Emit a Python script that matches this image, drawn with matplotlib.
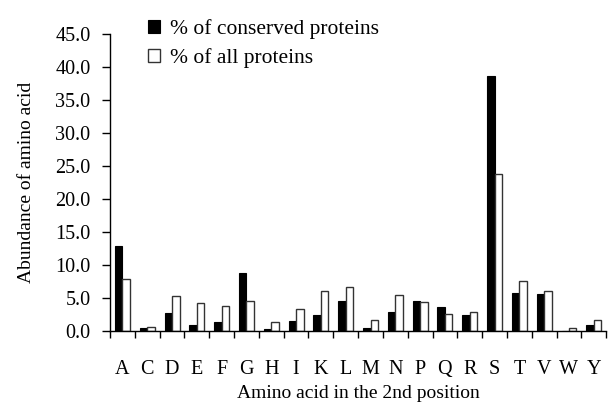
import numpy as np
import matplotlib.pyplot as plt

plt.rcParams['font.family'] = ['Liberation Serif', 'DejaVu Serif']

# amino acid in the 2nd position
amino = ['A', 'C', 'D', 'E', 'F', 'G', 'H', 'I', 'K', 'L',
         'M', 'N', 'P', 'Q', 'R', 'S', 'T', 'V', 'W', 'Y']
conserved = [12.9, 0.4, 2.7, 0.9, 1.4, 8.8, 0.3, 1.5, 2.4, 4.6,
             0.4, 2.8, 4.6, 3.6, 2.4, 38.6, 5.7, 5.6, 0.0, 0.9]
all_prot = [7.9, 0.6, 5.3, 4.3, 3.8, 4.6, 1.4, 3.3, 6.1, 6.7,
            1.6, 5.5, 4.4, 2.5, 2.9, 23.8, 7.6, 6.0, 0.5, 1.6]
yticks = np.arange(0, 45.1, 5)

x = np.arange(len(amino))
w = 0.3

fig = plt.figure(figsize=(6.08, 4.09), dpi=100)
ax = fig.add_axes([0.181, 0.191, 0.816, 0.726])

ax.bar(x - w/2, conserved, w, color='black', edgecolor='black', linewidth=0.8,
       label='% of conserved proteins')
ax.bar(x + w/2, all_prot, w, color='white', edgecolor='#333333', linewidth=1.0,
       label='% of all proteins')

ax.set_xlim(-0.5, len(amino) - 0.5)
ax.set_ylim(0, 45)
ax.set_yticks(yticks)
ax.set_yticklabels([f'{v:.1f}' for v in yticks])
ax.set_xticks(np.arange(-0.5, len(amino), 1.0))
ax.set_xticklabels([])
ax.set_xticks(x, minor=True)
ax.set_xticklabels(amino, minor=True)
ax.tick_params(axis='x', which='major', direction='out', length=5, width=1)
ax.tick_params(axis='x', which='minor', length=0, pad=21, labelsize=14.5)
ax.tick_params(axis='y', direction='out', length=6, width=1, labelsize=14.5, pad=8)

for s in ['top', 'right']:
    ax.spines[s].set_visible(False)
ax.spines['left'].set_linewidth(1)
ax.spines['bottom'].set_linewidth(1)

ax.set_xlabel('Amino acid in the 2nd position', fontsize=14, labelpad=4)
ax.set_ylabel('Abundance of amino acid', fontsize=14, labelpad=15)

ax.legend(loc='upper left', bbox_to_anchor=(0.212, 1.0), bbox_transform=fig.transFigure,
          frameon=False, fontsize=15.5, handlelength=0.55, handleheight=0.55,
          handletextpad=0.45, labelspacing=0.42)

fig.savefig('out.png', dpi=100)
